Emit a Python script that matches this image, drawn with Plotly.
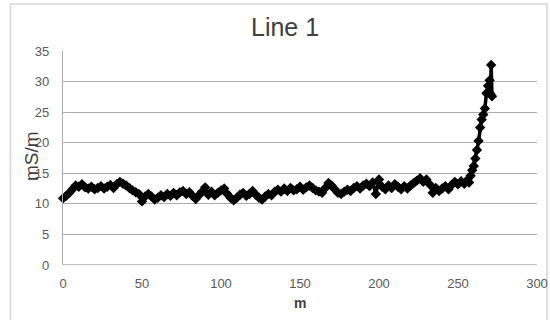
import plotly.graph_objects as go

# distance along line (m)
distance_m = [
    0, 2, 4, 6, 8, 10, 12, 14, 16, 18, 20, 22, 24, 26, 28, 30, 32, 34, 36, 38,
    40, 42, 44, 46, 48, 50, 52, 54, 56, 58, 60, 62, 64, 66, 68, 70, 72, 74, 76, 78,
    80, 82, 84, 86, 88, 90, 92, 94, 96, 98, 100, 102, 104, 106, 108, 110, 112, 114, 116, 118,
    120, 122, 124, 126, 128, 130, 132, 134, 136, 138, 140, 142, 144, 146, 148, 150, 152, 154, 156, 158,
    160, 162, 164, 166, 168, 170, 172, 174, 176, 178, 180, 182, 184, 186, 188, 190, 192, 194, 196, 198,
    200, 202, 204, 206, 208, 210, 212, 214, 216, 218, 220, 222, 224, 226, 228, 230, 232, 234, 236, 238,
    240, 242, 244, 246, 248, 250, 252, 254, 256, 257, 258, 259, 260, 261, 262, 263, 264, 265, 266, 267,
    268, 269, 270, 270.5, 271, 271.5,
]

# conductivity (mS/m)
conductivity = [
    10.9, 11.3, 11.8, 12.4, 13.0, 12.8, 13.2, 12.7, 12.5, 12.8, 12.4, 12.6, 12.9, 12.5, 12.8, 13.1, 12.6, 13.2, 13.6, 13.3,
    13.0, 12.6, 12.2, 11.9, 11.6, 10.4, 11.2, 11.6, 11.2, 10.7, 11.0, 11.4, 11.1, 11.6, 11.3, 11.8, 11.4, 11.9, 12.1, 11.6,
    11.9, 11.3, 10.8, 11.4, 12.0, 12.7, 11.5, 12.0, 11.4, 11.8, 12.2, 12.5, 11.6, 11.0, 10.6, 11.0, 11.5, 11.8, 11.3, 11.6,
    12.1, 11.5, 11.0, 10.7, 11.2, 11.6, 11.4, 12.0, 12.3, 12.0, 12.5, 12.1, 12.6, 12.2, 12.4, 12.8, 12.3, 12.7, 13.0, 12.6,
    12.2, 12.0, 11.8, 12.6, 13.4, 13.0, 12.4, 11.8, 11.6, 12.0, 12.3, 12.1, 12.6, 12.9, 12.5, 13.0, 13.3, 12.9, 13.5, 11.6,
    14.0, 12.8, 12.4, 13.0, 12.6, 13.2, 12.8, 12.4, 12.9, 12.5, 13.0, 13.4, 13.8, 14.2, 13.6, 14.0, 13.2, 11.8, 12.6, 12.1,
    12.5, 12.9, 12.4, 13.1, 13.6, 13.2, 13.7, 13.3, 13.9, 13.5, 14.6, 15.5, 16.2, 17.4, 18.8, 20.3, 22.5, 23.8, 24.6, 25.6,
    28.1, 29.3, 30.2, 28.0, 32.7, 27.6,
]

x_ticks = [0, 50, 100, 150, 200, 250, 300]
y_ticks = [0, 5, 10, 15, 20, 25, 30, 35]

W, H = 550, 320
ML, MR, MT, MB = 63, 13, 51, 55
PW, PH = W - ML - MR, H - MT - MB


def px_x(p):
    return (p - ML) / PW


def px_y(p):
    return (H - MB - p) / PH


fig = go.Figure()
fig.add_trace(go.Scatter(
    x=distance_m, y=conductivity, mode="lines+markers",
    line=dict(color="black", width=3.5),
    marker=dict(symbol="diamond", size=8, color="black"),
    showlegend=False, cliponaxis=False,
))

fig.update_layout(
    width=W, height=H,
    margin=dict(l=ML, r=MR, t=MT, b=MB, pad=0, autoexpand=False),
    paper_bgcolor="white", plot_bgcolor="white",
    font=dict(family="Liberation Sans", color="#595959"),
    xaxis=dict(
        range=[0, 300], tickvals=x_ticks, showgrid=False, zeroline=False,
        showline=False, ticks="", tickfont=dict(size=13, color="#595959"),
        ticklabelstandoff=9, automargin=False,
    ),
    yaxis=dict(
        range=[0, 35], tickvals=y_ticks, showgrid=True, gridcolor="#ababab",
        gridwidth=1.3, zeroline=False, showline=True, linecolor="#ababab",
        linewidth=1.3, ticks="", tickfont=dict(size=13, color="#595959"),
        ticklabelstandoff=10, automargin=False,
    ),
    shapes=[
        dict(type="rect", xref="paper", yref="paper",
             x0=px_x(10.5), x1=px_x(547), y0=px_y(325), y1=px_y(4),
             line=dict(color="#d4d4d4", width=1.5), layer="below"),
        dict(type="line", xref="paper", yref="y", x0=0, x1=1, y0=0, y1=0,
             line=dict(color="#ababab", width=1.3), layer="below"),
    ],
    annotations=[
        dict(text="Line 1", xref="paper", yref="paper", x=px_x(285), y=px_y(27),
             xanchor="center", yanchor="middle", showarrow=False,
             font=dict(size=25, color="#404040")),
        dict(text="mS/m", xref="paper", yref="paper", x=px_x(31), y=px_y(156),
             xanchor="center", yanchor="middle", showarrow=False, textangle=-90,
             font=dict(size=19, color="#404040")),
        dict(text="<b>m</b>", xref="paper", yref="paper", x=px_x(300), y=px_y(303),
             xanchor="center", yanchor="middle", showarrow=False,
             font=dict(size=14, color="#404040")),
    ],
)

fig.write_html(
    "out.html",
    config={"displayModeBar": False},
    post_script="document.body.style.margin='0px';document.body.style.overflow='hidden';",
)
